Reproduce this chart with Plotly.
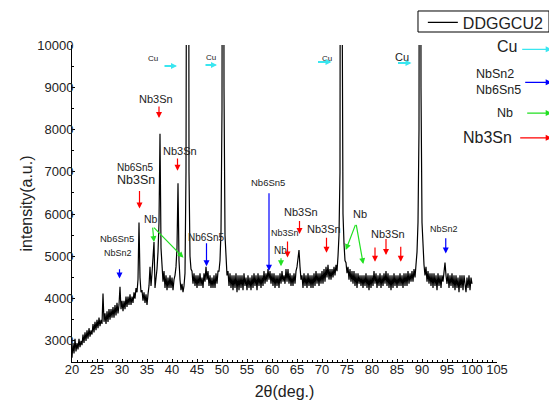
import numpy as np
import plotly.graph_objects as go

# ---- data -------------------------------------------------------------
two_theta_start = 20.0
two_theta_step = 0.2
intensity = [
    2600, 2950, 2700, 3050, 2750, 2950, 2800, 3050, 2850, 3000,   # 20.0
    2900, 3150, 2950, 3200, 3000, 3250, 3050, 3300, 3100, 3250,   # 22.0
    3150, 3400, 3200, 3450, 3250, 3500, 3300, 3550, 3350, 3500,   # 24.0
    3400, 4120, 3450, 3650, 3400, 3700, 3450, 3750, 3500, 3750,   # 26.0
    3550, 3800, 3550, 3850, 3600, 3900, 3650, 3850, 4280, 3750,   # 28.0
    3950, 3700, 3950, 3750, 4050, 3800, 4050, 3850, 4100, 3850,   # 30.0
    4050, 3900, 4150, 4000, 4250, 4150, 4450, 5800, 4500, 4150,   # 32.0
    4200, 3950, 4150, 3900, 4100, 3850, 4100, 4300, 4750, 4300,   # 34.0
    4600, 4900, 5340, 4250, 4450, 4700, 5100, 5800, 7900, 5200,   # 36.0
    4800, 4400, 4650, 4250, 4550, 4200, 4500, 4250, 4550, 4250,   # 38.0
    4500, 4200, 4450, 4550, 4750, 5200, 6730, 4900, 4450, 4200,   # 40.0
    4350, 4150, 4300, 4600, 7000, 30000, 30000, 7000, 5000, 4700, # 42.0
    4650, 4350, 4600, 4300, 4550, 4250, 4550, 4300, 4600, 4300,   # 44.0
    4500, 4250, 4600, 4400, 4750, 4450, 4650, 4300, 4550, 4250,   # 46.0
    4500, 4250, 4550, 4250, 4600, 4350, 4650, 4650, 4900, 5600,   # 48.0
    8500, 30000, 9000, 5500, 4900, 4550, 4650, 4300, 4600, 4250,  # 50.0
    4550, 4200, 4550, 4250, 4600, 4150, 4550, 4200, 4550, 4250,   # 52.0
    4550, 4200, 4600, 4300, 4500, 4200, 4550, 4250, 4500, 4200,   # 54.0
    4550, 4250, 4600, 4300, 4550, 4200, 4600, 4300, 4550, 4250,   # 56.0
    4550, 4300, 4650, 4350, 4600, 4400, 4700, 4450, 4650, 4350,   # 58.0
    4600, 4300, 4600, 4250, 4550, 4300, 4550, 4250, 4600, 4350,   # 60.0
    4650, 4400, 4550, 4350, 4700, 4400, 4700, 4350, 4600, 4300,   # 62.0
    4550, 4300, 4600, 4350, 4650, 4750, 4950, 5150, 4750, 4450,   # 64.0
    4550, 4250, 4600, 4300, 4550, 4250, 4600, 4300, 4550, 4250,   # 66.0
    4550, 4250, 4600, 4300, 4650, 4350, 4600, 4300, 4600, 4350,   # 68.0
    4650, 4350, 4700, 4400, 4750, 4500, 4800, 4450, 4700, 4450,   # 70.0
    4700, 4500, 4750, 4550, 4800, 4650, 5000, 5500, 7000, 30000,  # 72.0
    12000, 6000, 5300, 4900, 4850, 4600, 4750, 4450, 4700, 4400,  # 74.0
    4650, 4350, 4650, 4300, 4600, 4250, 4600, 4350, 4550, 4300,   # 76.0
    4550, 4250, 4550, 4300, 4600, 4250, 4550, 4200, 4550, 4250,   # 78.0
    4550, 4300, 4650, 4350, 4600, 4250, 4550, 4300, 4600, 4250,   # 80.0
    4550, 4300, 4600, 4350, 4650, 4300, 4600, 4250, 4550, 4200,   # 82.0
    4550, 4250, 4600, 4300, 4550, 4250, 4550, 4300, 4600, 4300,   # 84.0
    4550, 4250, 4600, 4300, 4600, 4300, 4650, 4350, 4600, 4400,   # 86.0
    4650, 4400, 4700, 4500, 4800, 5100, 5800, 8000, 30000, 9000,  # 88.0
    5800, 5000, 4800, 4550, 4750, 4400, 4650, 4350, 4600, 4300,   # 90.0
    4600, 4250, 4600, 4300, 4550, 4200, 4600, 4300, 4550, 4250,   # 92.0
    4550, 4400, 4650, 4850, 4550, 4350, 4600, 4250, 4550, 4300,   # 94.0
    4600, 4250, 4550, 4200, 4550, 4250, 4500, 4150, 4550, 4250,   # 96.0
    4550, 4200, 4550, 4250, 4150, 4500, 4250, 4550, 4200, 4500,   # 98.0
    4350,                                                         # 100.0
]
two_theta = np.round(two_theta_start + two_theta_step * np.arange(len(intensity)), 1)

series_name = "DDGGCU2"
x_ticks = list(range(20, 106, 5))
y_ticks = list(range(3000, 10001, 1000))

# phase labels: (text, x, y, font size)
labels = [
    ("Cu", 36.2, 9690, 8), ("Cu", 47.8, 9715, 8), ("Cu", 70.9, 9690, 8), ("Cu", 85.9, 9715, 11),
    ("Nb3Sn", 36.8, 8714, 11), ("Nb3Sn", 41.6, 7490, 11),
    ("Nb6Sn5", 32.75, 7096, 10), ("Nb3Sn", 32.75, 6804, 12.5),
    ("Nb", 35.7, 5880, 10.5),
    ("Nb6Sn5", 29.05, 5424, 9.5), ("NbSn2", 29.15, 5083, 9),
    ("Nb6Sn5", 46.85, 5448, 10),
    ("Nb6Sn5", 59.15, 6740, 9.5),
    ("Nb3Sn", 65.8, 6054, 11), ("Nb3Sn", 62.65, 5550, 9), ("Nb", 61.6, 5147, 10),
    ("Nb3Sn", 70.35, 5644, 11),
    ("Nb", 77.65, 5992, 11),
    ("Nb3Sn", 83.15, 5526, 11),
    ("NbSn2", 94.4, 5644, 9),
]

# arrows: (colour, tail x, tail y, tip x, tip y, width)
arrows = [
    ("cyan", 38.2, 9503, 41.0, 9503, 2), ("cyan", 46.4, 9527, 49.0, 9527, 2),
    ("cyan", 68.9, 9598, 71.9, 9598, 2), ("cyan", 84.9, 9574, 87.9, 9574, 2),
    ("red", 37.4, 8580, 37.4, 8272, 1.2), ("red", 41.1, 7349, 41.1, 7024, 1.2),
    ("red", 33.5, 6584, 33.5, 6134, 1.2),
    ("green", 36.1, 5716, 36.4, 5337, 1.2), ("green", 36.1, 5716, 42.3, 4965, 1.2),
    ("blue", 29.5, 4728, 29.5, 4477, 1.2), ("blue", 46.9, 5343, 46.9, 4768, 1.2),
    ("blue", 59.4, 6527, 59.4, 4657, 1.2),
    ("red", 65.5, 5874, 65.5, 5526, 1.2), ("red", 63.1, 5384, 63.1, 4974, 1.2),
    ("green", 61.8, 4988, 61.8, 4768, 1.2),
    ("red", 70.9, 5478, 70.9, 5083, 1.2),
    ("green", 76.8, 5779, 74.75, 5147, 1.2), ("green", 76.8, 5779, 78.25, 4816, 1.2),
    ("red", 80.6, 5242, 80.6, 4870, 1.2), ("red", 82.8, 5448, 82.8, 5029, 1.2),
    ("red", 85.75, 5265, 85.75, 4870, 1.2),
    ("blue", 94.75, 5462, 94.75, 5069, 1.2),
]

# colour key on the right (paper coords): text, x, y, anchor, size, colour, arrow y, arrow length
key_items = [
    ("Cu", 1.0228, 0.9946, "center", 16, "cyan", 0.9864, 31),
    ("NbSn2<br>Nb6Sn5", 0.9459, 0.8822, "left", 12.5, "blue", 0.8822, 28),
    ("Nb", 1.0188, 0.7862, "center", 12.5, "lime", 0.7853, 26),
    ("Nb3Sn", 0.9772, 0.7073, "center", 16, "red", 0.7073, 33),
]

colour_map = {"cyan": "#39e6f0", "red": "#ff0000", "green": "#22e022",
              "blue": "#0000ff", "lime": "#22e022"}
FONT = "Liberation Sans, Arial, sans-serif"
TXT = "#222222"

fig = go.Figure()
fig.add_trace(go.Scatter(x=two_theta, y=intensity, mode="lines", name=series_name,
                         line=dict(color="black", width=1.2)))

ann = []
for text, x, y, size in labels:
    ann.append(dict(x=x, y=y, xref="x", yref="y", text=text, showarrow=False,
                    font=dict(family=FONT, size=size, color=TXT)))
for col, tx, ty, hx, hy, w in arrows:
    ann.append(dict(x=hx, y=hy, ax=tx, ay=ty, xref="x", yref="y", axref="x", ayref="y",
                    text="", showarrow=True, arrowhead=2, arrowsize=1.0 if w < 2 else 0.6,
                    arrowwidth=w, arrowcolor=colour_map[col]))
for text, px, py, anchor, size, col, ay_tip, length in key_items:
    ann.append(dict(x=px, y=py, xref="paper", yref="paper", text=text, showarrow=False,
                    xanchor=anchor, yanchor="middle", align="left",
                    font=dict(family=FONT, size=size, color=TXT)))
    ann.append(dict(x=1.1287, y=ay_tip, xref="paper", yref="paper", text="", showarrow=True,
                    ax=-length, ay=0, arrowhead=2, arrowsize=1.0, arrowwidth=1.2,
                    arrowcolor=colour_map[col]))

# frame drawn around the legend entry
legend_frame = dict(type="rect", xref="paper", yref="paper",
                    x0=0.8141, x1=1.1224, y0=1.041, y1=1.1073,
                    line=dict(color="black", width=1), fillcolor="rgba(0,0,0,0)")

fig.update_layout(
    width=557, height=404,
    margin=dict(l=64, r=68, t=37, b=50, autoexpand=False),
    paper_bgcolor="white", plot_bgcolor="white",
    font=dict(family=FONT, size=13, color=TXT),
    showlegend=True,
    legend=dict(x=1.122, y=1.1245, xanchor="right", yanchor="top",
                borderwidth=0, bgcolor="rgba(0,0,0,0)",
                font=dict(family=FONT, size=16, color=TXT),
                tracegroupgap=0, itemwidth=30),
    shapes=[legend_frame],
    annotations=ann,
    xaxis=dict(range=[20, 105], tickvals=x_ticks, ticks="inside", ticklen=3,
               tickwidth=1, tickcolor="black", showline=True, linecolor="black",
               linewidth=1, showgrid=False, zeroline=False, ticklabelstandoff=-5,
               minor=dict(dtick=1, ticks="inside", ticklen=2, tickcolor="black"),
               tickfont=dict(size=13), title=dict(text="2θ(deg.)", font=dict(size=16), standoff=10)),
    yaxis=dict(range=[2500, 10000], tickvals=y_ticks, tickformat="d", ticks="inside", ticklen=3,
               tickwidth=1, tickcolor="black", showline=True, linecolor="black",
               linewidth=1, showgrid=False, zeroline=False, ticklabelstandoff=-5,
               minor=dict(dtick=500, ticks="inside", ticklen=2, tickcolor="black"),
               tickfont=dict(size=13), title=dict(text="intensity(a.u.)", font=dict(size=16), standoff=0)),
)

fig.write_html("out.html")
